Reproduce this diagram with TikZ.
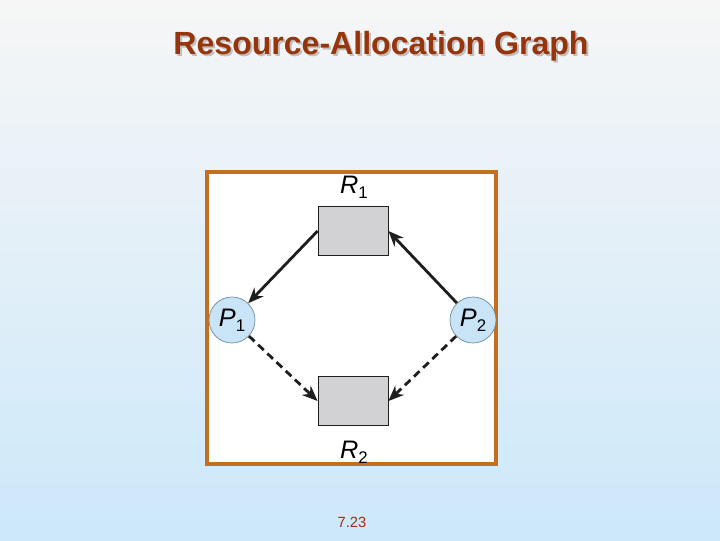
\documentclass[tikz,border=0pt]{standalone}
\usepackage{fontspec}
\setmainfont{Liberation Sans}
\usetikzlibrary{arrows.meta, positioning}
\definecolor{TitleBr}{RGB}{150,52,12}
\definecolor{FrameOr}{RGB}{196,110,32}
\definecolor{BgTop}{RGB}{246,246,246}
\definecolor{BgBot}{RGB}{204,232,250}
\definecolor{ResGr}{RGB}{210,210,212}
\definecolor{ProcBl}{RGB}{200,228,246}
\definecolor{ProcEdge}{RGB}{110,140,160}
\definecolor{DG}{RGB}{30,30,30}
\newcommand{\sublab}[2]{\textit{#1}\raisebox{-0.35ex}{\fontsize{12}{14}\selectfont #2}}

\begin{document}
\begin{tikzpicture}[
  x=0.025cm, y=-0.025cm,
  res/.style={draw=DG, fill=ResGr, line width=0.6pt,
              minimum width=1.75cm, minimum height=1.22cm, inner sep=0pt},
  proc/.style={draw=ProcEdge, fill=ProcBl, circle, line width=0.5pt,
               minimum size=1.15cm, inner sep=0pt, font=\fontsize{18}{20}\selectfont},
  lbl/.style={font=\fontsize{18}{20}\selectfont},
  arr/.style={-{Stealth[length=11pt, width=9pt]}, line width=2pt, draw=DG},
  darr/.style={arr, dash pattern=on 5.5pt off 3.5pt}
]
% background and frame
\shade[top color=BgTop, bottom color=BgBot] (0,0) rectangle (720,540);
\useasboundingbox (0,0) rectangle (720,540);
\draw[FrameOr, line width=2.2pt, fill=white] (207,172) rectangle (496,464);

\node[text=black!25, font=\fontsize{22.8}{26}\selectfont\bfseries] at (383,48) {Resource-Allocation Graph};
\node[text=TitleBr, font=\fontsize{22.8}{26}\selectfont\bfseries] (title) at (381,46) {Resource-Allocation Graph};

\node[res]  (r1) at (353,231) {};
\node[res]  (r2) at (353,401) {};
\node[proc] (p1) at (232,320) {\sublab{P}{1}};
\node[proc] (p2) at (473,320) {\sublab{P}{2}};
\node[lbl] (r1l) at (354,187) {\sublab{R}{1}};
\node[lbl] (r2l) at (354,452) {\sublab{R}{2}};

\draw[arr]  (r1.west) -- (p1);
\draw[arr]  (p2) -- (r1.east);
\draw[darr] (p1) -- (r2.west);
\draw[darr] (p2) -- (r2.east);

\node[text=TitleBr, font=\fontsize{10.5}{12}\selectfont] (pg) at (352,522) {7.23};
\end{tikzpicture}
\end{document}
